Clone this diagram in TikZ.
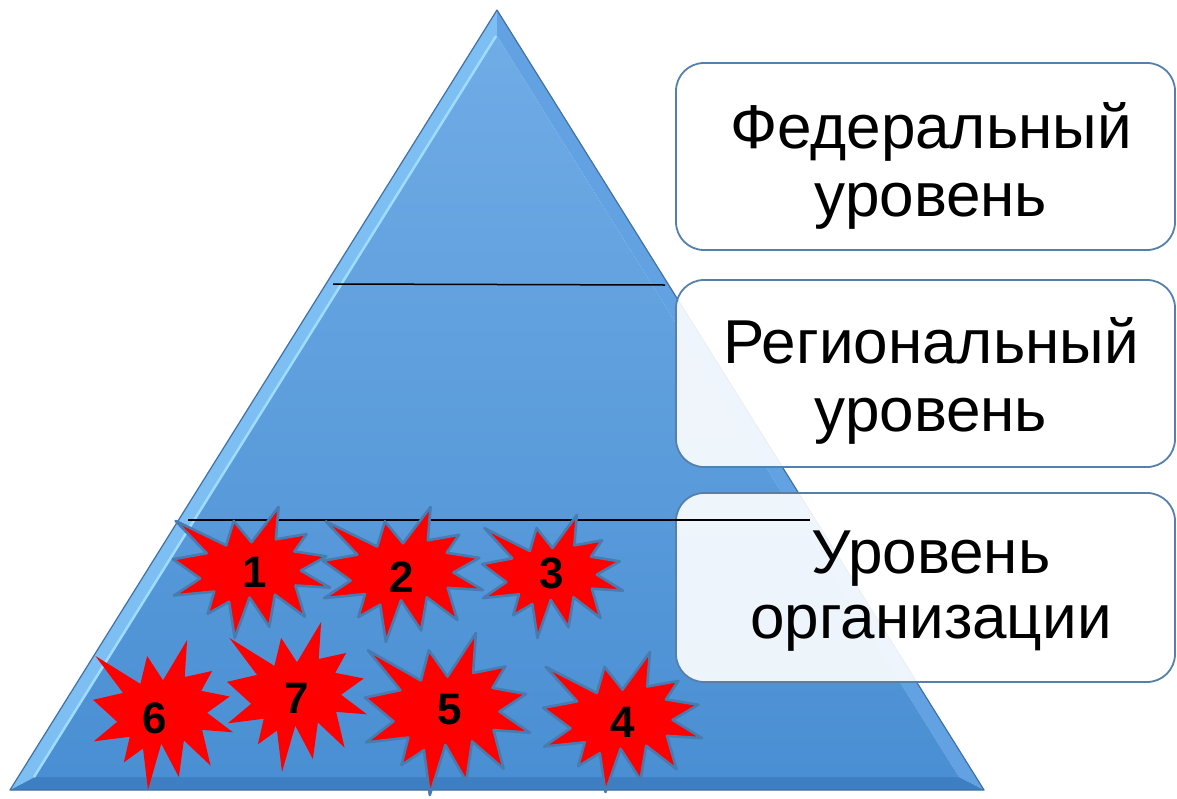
\documentclass[tikz,border=0pt]{standalone}
\usepackage{fontspec}
\setmainfont{Liberation Sans}
\definecolor{triTop}{RGB}{112,172,230}
\definecolor{triBot}{RGB}{74,143,211}
\definecolor{bevLeft}{RGB}{125,190,243}
\definecolor{bevRight}{RGB}{98,162,226}
\definecolor{bevBot}{RGB}{62,126,194}
\definecolor{triEdge}{RGB}{64,112,165}
\definecolor{boxEdge}{RGB}{86,128,172}
\definecolor{burstEdge}{RGB}{72,124,176}
\definecolor{burstRed}{RGB}{255,0,0}
\newcommand\burst[5]{%
  \begin{scope}[shift={(#1,#2)}, x=#3pt, y=-#4pt]
  \draw[#5] (50,26.85) -- (67.23,0) -- (65.53,24.65) -- (85.09,20.63) -- (77.32,33.87) -- (97.67,37.67) -- (81.51,48.50) -- (100,61.53) -- (77.95,59.92) -- (84.00,83.77) -- (64.91,66.93) -- (61.33,91.38) -- (48.76,69.14) -- (39.28,100) -- (35.72,72.35) -- (22.05,81.56) -- (26.24,64.52) -- (0.63,67.53) -- (17.23,54.51) -- (0,39.88) -- (21.42,35.26) -- (1.71,10.63) -- (33.85,29.26) -- (38.67,10.63) -- cycle;
  \end{scope}}
\begin{document}
\begin{tikzpicture}[x=1pt,y=-1pt,
  levelbox/.style={draw=boxEdge, line width=1.8pt, rounded corners=28pt, fill=white, fill opacity=0.9, inner sep=0pt},
  leveltext/.style={anchor=base, inner sep=0pt, font=\fontsize{62}{68}\selectfont},
  divider/.style={draw=black, line width=1.5pt},
  burstline/.style={fill=burstRed, draw=burstEdge, line width=2.6pt, line join=round},
  burstplain/.style={fill=burstRed, draw=none},
  digit/.style={inner sep=0pt, font=\bfseries\fontsize{44}{44}\selectfont}]
\useasboundingbox (0,0) rectangle (1177,798);
\fill[white] (0,0) rectangle (1177,798);
% triangle
\coordinate (A) at (497,10);
\coordinate (B) at (10,790);
\coordinate (C) at (984,790);
\coordinate (Ai) at (497,36);
\coordinate (Bi) at (35,777);
\coordinate (Ci) at (959,777);
\fill[bevLeft] (A) -- (B) -- (Bi) -- (Ai) -- cycle;
\fill[bevRight] (A) -- (C) -- (Ci) -- (Ai) -- cycle;
\fill[bevBot] (B) -- (C) -- (Ci) -- (Bi) -- cycle;
\shade[top color=triTop, bottom color=triBot] (Ai) -- (Bi) -- (Ci) -- cycle;
\draw[color={rgb,255:red,160;green,220;blue,255}, line width=2.5pt] ([xshift=-1pt]Ai) -- ([xshift=-1pt]Bi);
\draw[triEdge, line width=1.2pt, line join=round] (A) -- (B) -- (C) -- cycle;
% level boxes
\node[levelbox, minimum width=499pt, minimum height=187pt] (box1) at (925.5,156.5) {};
\node[levelbox, minimum width=499pt, minimum height=187pt] (box2) at (925.5,373.5) {};
\node[levelbox, minimum width=499pt, minimum height=189pt] (box3) at (925.5,587.5) {};
\node[leveltext] (t1a) at (931,148) {Федеральный};
\node[leveltext] (t1b) at (931,216) {уровень};
\node[leveltext] (t2a) at (931,363) {Региональный};
\node[leveltext] (t2b) at (931,431) {уровень};
\node[leveltext] (t3a) at (931,573) {Уровень};
\node[leveltext] (t3b) at (931,638) {организации};
% dividers
\coordinate (d1a) at (333,284);
\coordinate (d1b) at (665,285);
\coordinate (d2a) at (188,520);
\coordinate (d2b) at (810,520);
\draw[divider] (d1a) -- (d1b);
\draw[divider] (d2a) -- (d2b);
% bursts
\burst{173}{507}{1.57}{1.31}{burstline}
\burst{323}{507}{1.60}{1.35}{burstline}
\burst{482}{515}{1.41}{1.23}{burstline}
\burst{543}{652}{1.59}{1.40}{burstline}
\burst{365}{633}{1.65}{1.62}{burstline}
\burst{93}{640}{1.40}{1.50}{burstplain}
\burst{227}{622}{1.40}{1.50}{burstplain}
\node[digit] (n1) at (255,572) {1};
\node[digit] (n2) at (402,577) {2};
\node[digit] (n3) at (552,573) {3};
\node[digit] (n4) at (623,722) {4};
\node[digit] (n5) at (450,710) {5};
\node[digit] (n6) at (155,718) {6};
\node[digit] (n7) at (297,698) {7};
\end{tikzpicture}
\end{document}
